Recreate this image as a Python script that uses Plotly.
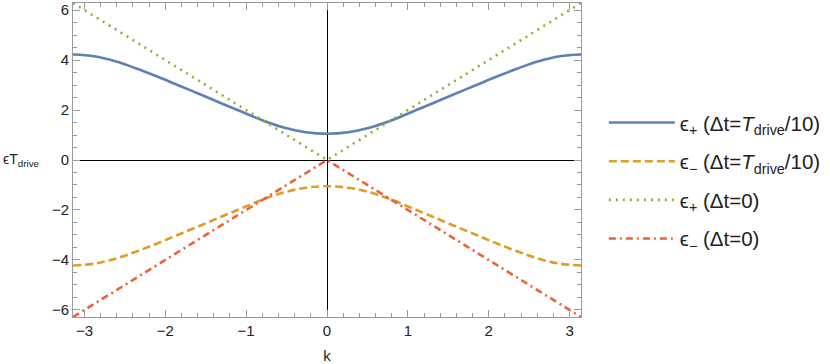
import plotly.graph_objects as go
import math

PI = math.pi
# k grid (pi/12 steps)
k = [-PI + i * PI / 12 for i in range(25)]

# quasi-energies (Delta t = T_drive/10)
eps_plus_dt = [4.22, 4.15, 3.95, 3.66, 3.33, 2.98, 2.63, 2.27, 1.92, 1.57, 1.29, 1.11, 1.05,
               1.11, 1.29, 1.57, 1.92, 2.27, 2.63, 2.98, 3.33, 3.66, 3.95, 4.15, 4.22]
eps_minus_dt = [-4.22, -4.15, -3.95, -3.66, -3.33, -2.98, -2.63, -2.27, -1.92, -1.57, -1.29, -1.11, -1.05,
                -1.11, -1.29, -1.57, -1.92, -2.27, -2.63, -2.98, -3.33, -3.66, -3.95, -4.15, -4.22]

# Delta t = 0 (straight lines)
k0 = [-PI, 0.0, PI]
eps_plus_0 = [6.283, 0.0, 6.283]
eps_minus_0 = [-6.283, 0.0, -6.283]

x_ticks = [-3, -2, -1, 0, 1, 2, 3]
y_ticks = [-6, -4, -2, 0, 2, 4, 6]

names = [
    "ϵ<sub>+</sub> (Δt=<i>T</i><sub>drive</sub>/10)",
    "ϵ<sub>−</sub> (Δt=<i>T</i><sub>drive</sub>/10)",
    "ϵ<sub>+</sub> (Δt=0)",
    "ϵ<sub>−</sub> (Δt=0)",
]
colors = ["#5E81B5", "#E19C24", "#8FB032", "#EB6235"]
dashes = ["solid", "8px,4px", "2px,5px", "7px,4px,2px,4px"]

FONT = "Liberation Sans, Arial, sans-serif"

fig = go.Figure()
series = [(k, eps_plus_dt), (k, eps_minus_dt), (k0, eps_plus_0), (k0, eps_minus_0)]
for i, (xs, ys) in enumerate(series):
    fig.add_trace(go.Scatter(
        x=xs, y=ys, mode="lines", name=names[i], legendgroup=str(i),
        line=dict(color=colors[i], width=2.6, dash=dashes[i], shape="spline" if i < 2 else "linear"),
    ))

axis_common = dict(
    showgrid=False, showline=True, linecolor="#9a9a9a", linewidth=1, mirror="allticks",
    ticks="inside", ticklen=7, tickcolor="#9a9a9a", tickwidth=1,
    zeroline=True, zerolinecolor="#000000", zerolinewidth=1,
    tickfont=dict(family=FONT, size=15, color="#222"), automargin=False,
)

fig.update_xaxes(
    range=[-PI, PI], tickvals=x_ticks, ticktext=[str(v).replace("-", "−") for v in x_ticks],
    minor=dict(dtick=0.2, ticks="inside", ticklen=4, tickcolor="#9a9a9a", showgrid=False),
    title=dict(text="k", font=dict(family=FONT, size=15, color="#222"), standoff=14),
    **axis_common,
)
fig.update_yaxes(
    range=[-2 * PI, 2 * PI], tickvals=y_ticks, ticktext=[str(v).replace("-", "−") for v in y_ticks],
    minor=dict(dtick=0.5, ticks="inside", ticklen=4, tickcolor="#9a9a9a", showgrid=False),
    **axis_common,
)

fig.add_annotation(
    text="ϵT<sub>drive</sub>", xref="paper", yref="y", x=-0.141, y=0,
    xanchor="left", yanchor="middle", showarrow=False,
    font=dict(family=FONT, size=14, color="#222"),
)

fig.update_layout(
    width=830, height=364,
    margin=dict(l=73, r=249, t=3, b=47, autoexpand=False),
    plot_bgcolor="white", paper_bgcolor="white",
    showlegend=True,
    legend=dict(
        x=1.045, y=0.434, xanchor="left", yanchor="middle",
        font=dict(family=FONT, size=20.5, color="#222"),
        itemwidth=66, tracegroupgap=9, bgcolor="rgba(0,0,0,0)",
    ),
)

fig.write_html("out.html", config={"displayModeBar": False},
               post_script="document.body.style.margin='0';document.body.style.overflow='hidden';")
